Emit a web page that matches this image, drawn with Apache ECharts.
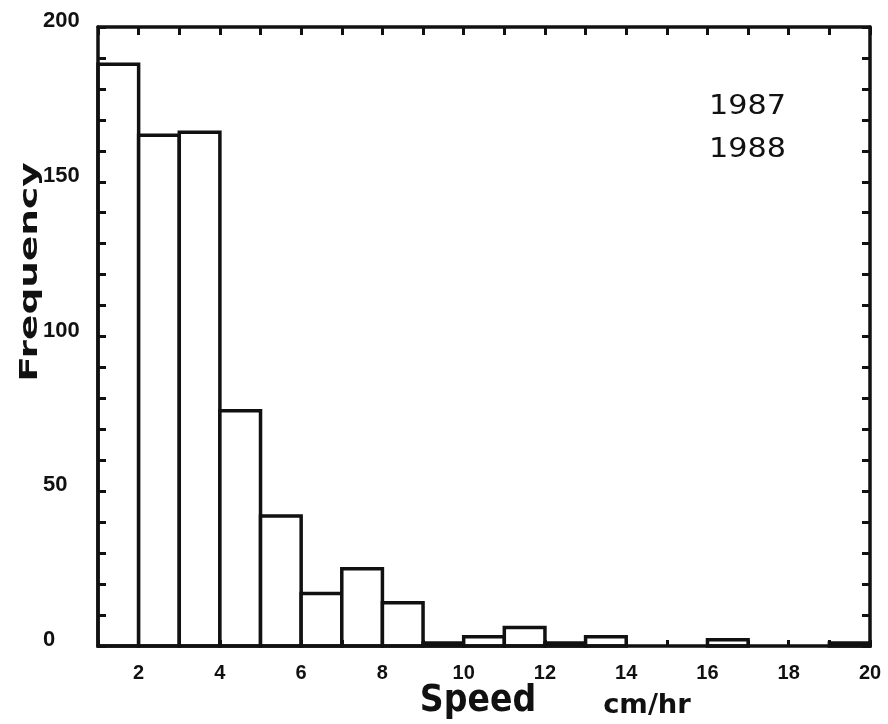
<!DOCTYPE html>
<html>
<head>
<meta charset="utf-8">
<script src="https://cdn.jsdelivr.net/npm/echarts@6/dist/echarts.min.js"></script>
<style>
html,body{margin:0;padding:0;background:#fff;}
#chart{width:888px;height:724px;}
</style>
</head>
<body>
<div id="chart"></div>
<script>
// Histogram bins (cm/hr) and frequencies
const binStart = [1, 2, 3, 4, 5, 6, 7, 8, 9, 10, 11, 12, 13, 14, 15, 16, 17, 18, 19];
const binEnd   = [2, 3, 4, 5, 6, 7, 8, 9, 10, 11, 12, 13, 14, 15, 16, 17, 18, 19, 20];
const frequency = [188, 165, 166, 76, 42, 17, 25, 14, 1, 3, 6, 1, 3, 0, 0, 2, 0, 0, 1];
const xTickLabels = [2, 4, 6, 8, 10, 12, 14, 16, 18, 20];
const yTickLabels = [0, 50, 100, 150, 200];
const yearLabels = ['1987', '1988'];

const INK = '#111';
const data = binStart.map((s, i) => [s, binEnd[i], frequency[i]]);

const chart = echarts.init(document.getElementById('chart'), null, {renderer: 'canvas'});

const axisLineStyle = {show: true, onZero: false, lineStyle: {color: INK, width: 3.5}};

const option = {
  backgroundColor: '#fff',
  animation: false,
  grid: {left: 98, right: 18, top: 27, bottom: 78, containLabel: false},
  xAxis: [
    {
      type: 'value', position: 'bottom', min: 1, max: 20, interval: 1, z: 5,
      axisLine: axisLineStyle,
      axisTick: {show: true, inside: true, length: 6, lineStyle: {color: INK, width: 3}},
      splitLine: {show: false},
      axisLabel: {
        margin: 17,
        color: INK,
        fontFamily: 'Liberation Sans',
        fontWeight: 'bold',
        fontSize: 20,
        formatter: v => xTickLabels.indexOf(v) >= 0 ? String(v) : ''
      }
    },
    {
      type: 'value', position: 'top', min: 1, max: 20, interval: 1, z: 5,
      axisLine: axisLineStyle,
      axisTick: {show: true, inside: true, length: 8, lineStyle: {color: INK, width: 3}},
      splitLine: {show: false},
      axisLabel: {show: false}
    }
  ],
  yAxis: [
    {
      type: 'value', position: 'left', min: 0, max: 200, interval: 10, z: 5,
      axisLine: axisLineStyle,
      axisTick: {show: true, inside: true, length: 8, lineStyle: {color: INK, width: 3}},
      splitLine: {show: false},
      axisLabel: {
        align: 'left',
        verticalAlign: 'bottom',
        lineHeight: 12,
        margin: 55,
        color: INK,
        fontFamily: 'Liberation Sans',
        fontWeight: 'bold',
        fontSize: 22,
        formatter: v => yTickLabels.indexOf(v) >= 0 ? String(v) : ''
      }
    },
    {
      type: 'value', position: 'right', min: 0, max: 200, interval: 10, z: 5,
      axisLine: axisLineStyle,
      axisTick: {show: true, inside: true, length: 8, lineStyle: {color: INK, width: 3}},
      splitLine: {show: false},
      axisLabel: {show: false}
    }
  ],
  series: [{
    type: 'custom',
    xAxisIndex: 0,
    yAxisIndex: 0,
    z: 1,
    encode: {x: [0, 1], y: 2},
    data: data,
    renderItem: function (params, api) {
      const v = api.value(2);
      if (!v) return null;
      const p0 = api.coord([api.value(0), v]);
      const p1 = api.coord([api.value(1), 0]);
      return {
        type: 'rect',
        shape: {x: p0[0], y: p0[1], width: p1[0] - p0[0], height: p1[1] - p0[1]},
        style: {fill: '#fff', stroke: INK, lineWidth: 3.5}
      };
    }
  }],
  graphic: [
    {
      type: 'text', x: 30, y: 272, rotation: Math.PI / 2, scaleX: 1.5,
      style: {text: 'Frequency', font: 'bold 25px "DejaVu Sans"', fill: INK, textAlign: 'center', textVerticalAlign: 'middle'}
    },
    {
      type: 'text', x: 478, y: 701, scaleX: 0.97,
      style: {text: 'Speed', font: 'bold 38px "DejaVu Sans Condensed", "DejaVu Sans"', fill: INK, textAlign: 'center', textVerticalAlign: 'middle'}
    },
    {
      type: 'text', x: 647, y: 706, scaleX: 1.17,
      style: {text: 'cm/hr', font: 'bold 26px "DejaVu Sans Condensed", "DejaVu Sans"', fill: INK, textAlign: 'center', textVerticalAlign: 'middle'}
    },
    {
      type: 'text', x: 709, y: 107, scaleX: 1.12,
      style: {text: yearLabels[0], font: '27px "DejaVu Sans"', fill: INK, textAlign: 'left', textVerticalAlign: 'middle'}
    },
    {
      type: 'text', x: 709, y: 150, scaleX: 1.12,
      style: {text: yearLabels[1], font: '27px "DejaVu Sans"', fill: INK, textAlign: 'left', textVerticalAlign: 'middle'}
    }
  ]
};

chart.setOption(option);
</script>
</body>
</html>
